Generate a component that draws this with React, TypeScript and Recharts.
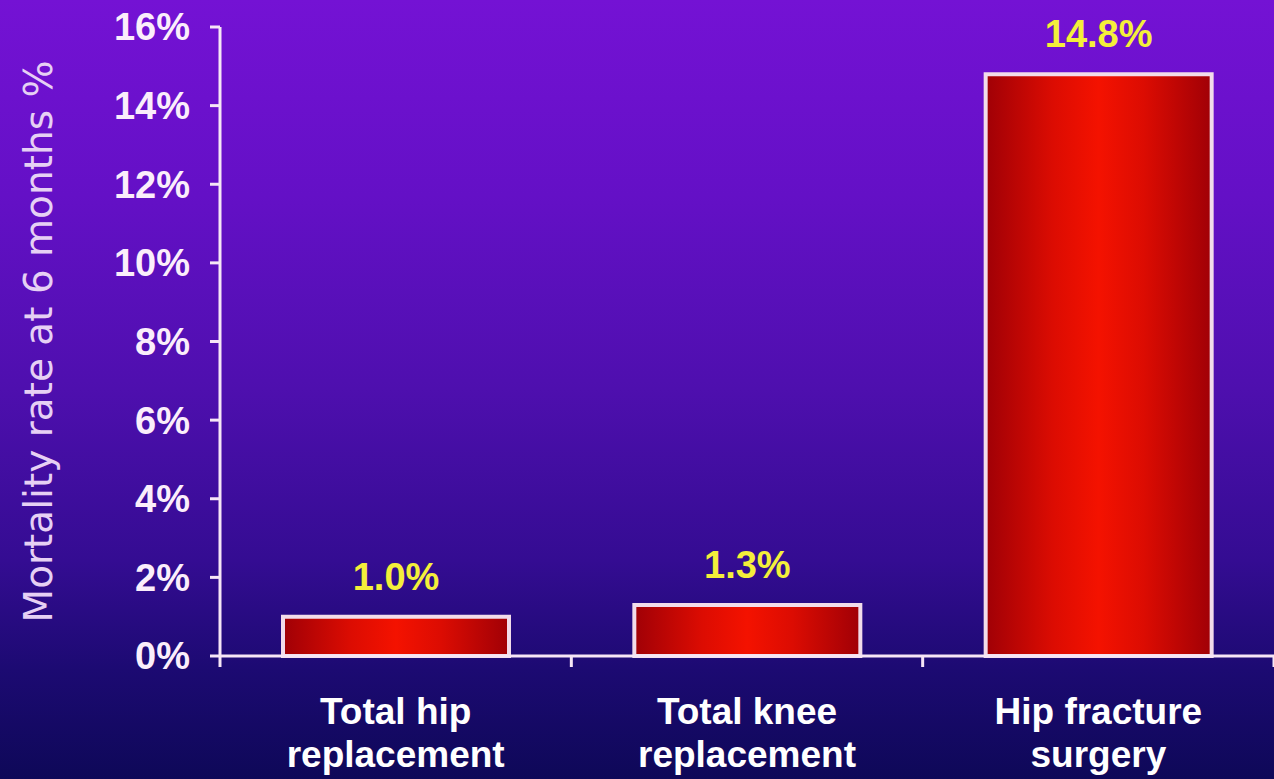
import React from 'react';
import { BarChart, Bar, XAxis, YAxis, LabelList } from 'recharts';

const categories = ['Total hip replacement', 'Total knee replacement', 'Hip fracture surgery'];
const mortality = [1.0, 1.3, 14.8];
const yTicks = [0, 2, 4, 6, 8, 10, 12, 14, 16];
const boundaryTicks = [0, 1, 2, 3];
const yLabel = 'Mortality rate at 6 months %';

const data = categories.map((c, i) => ({ name: c, value: mortality[i], pos: i + 0.5 }));

const BOLD = '"Liberation Sans", Arial, sans-serif';
const AXIS_COLOR = '#f6e6f6';

const CategoryTick = (props: any) => {
  const { x, y, payload } = props;
  const s: string = String(payload.value);
  const cut = s.lastIndexOf(' ');
  const lines = [s.slice(0, cut), s.slice(cut + 1)];
  return (
    <g transform={`translate(${x},${y})`}>
      {lines.map((l, i) => (
        <text
          key={i}
          x={0}
          y={68 + i * 43}
          textAnchor="middle"
          fill="#ffffff"
          fontFamily={BOLD}
          fontWeight="bold"
          fontSize={37}
        >
          {l}
        </text>
      ))}
    </g>
  );
};

export default function App() {
  return (
    <div
      style={{
        position: 'absolute',
        left: 0,
        top: 0,
        width: 1274,
        height: 779,
        background:
          'linear-gradient(to bottom, #7412d4 0%, #6410c6 25%, #4e0fae 50%, #340c92 72%, #1c0a72 86%, #0e0858 100%)',
        overflow: 'hidden',
      }}
    >
      <BarChart
        width={1274}
        height={779}
        data={data}
        margin={{ top: 27, right: 0, left: 0, bottom: 121 }}
      >
        <defs>
          <linearGradient id="barFill" x1="0" y1="0" x2="1" y2="0">
            <stop offset="0%" stopColor="#a00006" />
            <stop offset="30%" stopColor="#dc0c02" />
            <stop offset="50%" stopColor="#f41200" />
            <stop offset="70%" stopColor="#dc0c02" />
            <stop offset="100%" stopColor="#a00006" />
          </linearGradient>
        </defs>
        <XAxis
          dataKey="name"
          height={1}
          axisLine={{ stroke: AXIS_COLOR, strokeWidth: 3 }}
          tickLine={false}
          tickSize={0}
          tickMargin={0}
          interval={0}
          tick={<CategoryTick />}
        />
        <XAxis
          xAxisId="bounds"
          dataKey="pos"
          type="number"
          domain={[0, 3]}
          ticks={boundaryTicks}
          allowDataOverflow
          height={1}
          axisLine={false}
          tickLine={{ stroke: AXIS_COLOR, strokeWidth: 3 }}
          tickSize={10}
          tickFormatter={() => ''}
        />
        <YAxis
          width={220}
          domain={[0, 16]}
          ticks={yTicks}
          interval={0}
          axisLine={{ stroke: AXIS_COLOR, strokeWidth: 3 }}
          tickLine={{ stroke: AXIS_COLOR, strokeWidth: 3 }}
          tickSize={10}
          tickMargin={20}
          tickFormatter={(v: number) => `${v}%`}
          tick={{ fill: '#fbeefb', fontFamily: BOLD, fontWeight: 'bold', fontSize: 38 }}
          label={{
            value: yLabel,
            angle: -90,
            position: 'insideLeft',
            offset: 38,
            style: {
              textAnchor: 'middle',
              fill: '#e6d0f4',
              fontFamily: '"DejaVu Sans", sans-serif',
              fontSize: 39,
            },
          }}
        />
        <Bar
          dataKey="value"
          barSize={226}
          fill="url(#barFill)"
          stroke="#f2dcea"
          strokeWidth={4}
          isAnimationActive={false}
        >
          <LabelList
            dataKey="value"
            position="top"
            offset={27}
            formatter={(v: any) => `${Number(v).toFixed(1)}%`}
            fill="#f4ef3a"
            fontFamily={BOLD}
            fontWeight="bold"
            fontSize={38}
          />
        </Bar>
      </BarChart>
    </div>
  );
}
